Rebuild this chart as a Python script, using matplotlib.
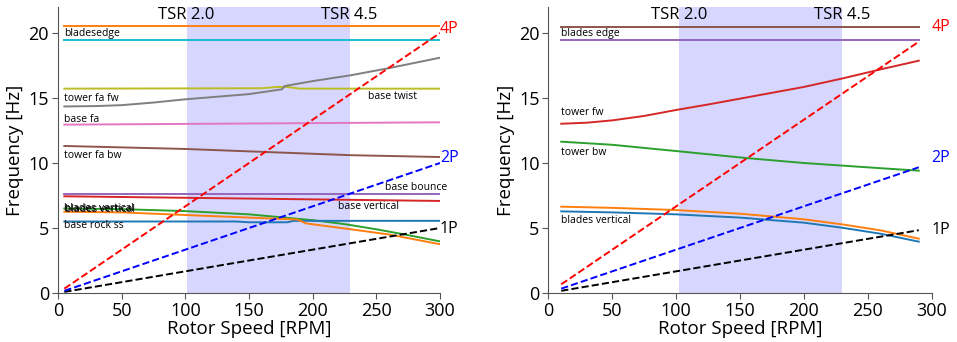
import numpy as np
import matplotlib.pyplot as plt

plt.rcParams['font.family'] = ['Open Sans', 'DejaVu Sans']

# ---- left panel data (rpm, Hz) ----
l_rpm_ends = [5, 300]
l_1p = [0.083, 5.0]
l_2p = [0.167, 10.0]
l_4p = [0.333, 20.0]

l_edge_top = [20.55, 20.55]
l_edge = [19.46, 19.46]
l_twist_rpm = [5, 160, 172, 180, 190, 300]
l_twist = [15.72, 15.75, 15.85, 15.85, 15.72, 15.72]
l_fafw_rpm = [5, 30, 50, 75, 100, 125, 150, 176, 178, 200, 230, 260, 300]
l_fafw = [14.35, 14.38, 14.45, 14.65, 14.9, 15.1, 15.3, 15.67, 15.92, 16.3, 16.75, 17.3, 18.1]
l_basefa = [12.95, 13.13]
l_fabw_rpm = [5, 100, 230, 300]
l_fabw = [11.31, 11.08, 10.6, 10.46]
l_bounce = [7.64, 7.64]
l_vert = [7.44, 7.08]
l_bv_g_rpm = [5, 50, 100, 150, 200, 225, 250, 275, 300]
l_bv_g = [6.5, 6.45, 6.3, 6.05, 5.6, 5.3, 4.9, 4.45, 3.97]
l_bv_o_rpm = [5, 50, 100, 150, 188, 195, 230, 260, 300]
l_bv_o = [6.25, 6.2, 6.0, 5.8, 5.65, 5.35, 4.9, 4.5, 3.75]
l_rock_rpm = [5, 140, 150, 180, 185, 300]
l_rock = [5.5, 5.5, 5.44, 5.44, 5.55, 5.55]

# ---- right panel data ----
r_rpm_ends = [10, 290]
r_1p = [0.167, 4.83]
r_2p = [0.333, 9.67]
r_4p = [0.667, 19.33]
r_edge_top = [20.5, 20.5]
r_edge = [19.46, 19.46]
r_fw_rpm = [10, 30, 50, 75, 100, 125, 150, 175, 200, 230, 260, 290]
r_fw = [13.02, 13.1, 13.28, 13.62, 14.08, 14.5, 14.95, 15.4, 15.85, 16.5, 17.2, 17.87]
r_bw_rpm = [10, 50, 102, 155, 200, 230, 260, 290]
r_bw = [11.64, 11.4, 10.9, 10.38, 10.0, 9.8, 9.6, 9.41]
r_rpm = [10, 50, 100, 150, 200, 230, 260, 290]
r_bv_o = [6.64, 6.55, 6.38, 6.1, 5.67, 5.28, 4.82, 4.18]
r_bv_b = [6.28, 6.2, 6.05, 5.8, 5.41, 5.02, 4.56, 3.95]

tsr_left = [101, 229]
tsr_right = [102, 230]

fig = plt.figure(figsize=(9.57, 3.42), dpi=100)
axl = fig.add_axes([0.0606, 0.1433, 0.3992, 0.8362])
axr = fig.add_axes([0.5731, 0.1433, 0.4003, 0.8362])

lw = 1.4
tfs = 7.5

# left
ax = axl
ax.axvspan(tsr_left[0], tsr_left[1], color='b', alpha=0.16, lw=0)
ax.plot(l_rpm_ends, l_edge_top, color='tab:orange', lw=lw)
ax.plot(l_rpm_ends, l_edge, color='tab:cyan', lw=lw)
ax.plot(l_twist_rpm, l_twist, color='tab:olive', lw=lw)
ax.plot(l_fafw_rpm, l_fafw, color='tab:gray', lw=lw)
ax.plot(l_rpm_ends, l_basefa, color='tab:pink', lw=lw)
ax.plot(l_fabw_rpm, l_fabw, color='tab:brown', lw=lw)
ax.plot(l_rpm_ends, l_bounce, color='tab:purple', lw=lw)
ax.plot(l_rpm_ends, l_vert, color='tab:red', lw=lw)
ax.plot(l_bv_g_rpm, l_bv_g, color='tab:green', lw=lw)
ax.plot(l_rock_rpm, l_rock, color='tab:blue', lw=lw)
ax.plot(l_bv_o_rpm, l_bv_o, color='tab:orange', lw=lw)
ax.plot(l_rpm_ends, l_1p, 'k--', lw=lw)
ax.plot(l_rpm_ends, l_2p, 'b--', lw=lw)
ax.plot(l_rpm_ends, l_4p, 'r--', lw=lw)
ax.text(5, 19.95, 'bladesedge', fontsize=tfs, va='center')
ax.text(5, 14.98, 'tower fa fw', fontsize=tfs, va='center')
ax.text(5, 13.38, 'base fa', fontsize=tfs, va='center')
ax.text(5, 10.56, 'tower fa bw', fontsize=tfs, va='center')
ax.text(243.5, 15.08, 'base twist', fontsize=tfs, va='center')
ax.text(257, 8.1, 'base bounce', fontsize=tfs, va='center')
ax.text(220, 6.69, 'base vertical', fontsize=tfs, va='center')
ax.text(5, 6.48, 'blades vertical', fontsize=tfs, va='center')
ax.text(5.6, 6.4, 'blades vertical', fontsize=tfs, va='center')
ax.text(5, 5.2, 'base rock ss', fontsize=tfs, va='center')
ax.text(300, 20.3, '4P', color='r', fontsize=11.5, va='center')
ax.text(300, 10.4, '2P', color='b', fontsize=11.5, va='center')
ax.text(300, 4.9, '1P', color='k', fontsize=11.5, va='center')
ax.text(tsr_left[0], 21.4, 'TSR 2.0', fontsize=12, ha='center', va='center')
ax.text(tsr_left[1], 21.4, 'TSR 4.5', fontsize=12, ha='center', va='center')

# right
ax = axr
ax.axvspan(tsr_right[0], tsr_right[1], color='b', alpha=0.16, lw=0)
ax.plot(r_rpm_ends, r_edge_top, color='tab:brown', lw=lw)
ax.plot(r_rpm_ends, r_edge, color='tab:purple', lw=lw)
ax.plot(r_fw_rpm, r_fw, color='tab:red', lw=lw)
ax.plot(r_bw_rpm, r_bw, color='tab:green', lw=lw)
ax.plot(r_rpm, r_bv_o, color='tab:orange', lw=lw)
ax.plot(r_rpm, r_bv_b, color='tab:blue', lw=lw)
ax.plot(r_rpm_ends, r_1p, 'k--', lw=lw)
ax.plot(r_rpm_ends, r_2p, 'b--', lw=lw)
ax.plot(r_rpm_ends, r_4p, 'r--', lw=lw)
ax.text(10, 19.97, 'blades edge', fontsize=tfs, va='center')
ax.text(10, 13.87, 'tower fw', fontsize=tfs, va='center')
ax.text(10, 10.77, 'tower bw', fontsize=tfs, va='center')
ax.text(10, 5.54, 'blades vertical', fontsize=tfs, va='center')
ax.text(300, 20.5, '4P', color='r', fontsize=11.5, va='center')
ax.text(300, 10.4, '2P', color='b', fontsize=11.5, va='center')
ax.text(300, 4.85, '1P', color='k', fontsize=11.5, va='center')
ax.text(tsr_right[0], 21.4, 'TSR 2.0', fontsize=12, ha='center', va='center')
ax.text(tsr_right[1], 21.4, 'TSR 4.5', fontsize=12, ha='center', va='center')

for ax in (axl, axr):
    ax.set_xlim(0, 300)
    ax.set_ylim(0, 22)
    ax.set_xticks([0, 50, 100, 150, 200, 250, 300])
    ax.set_yticks([0, 5, 10, 15, 20])
    ax.spines['top'].set_visible(False)
    ax.spines['right'].set_visible(False)
    ax.spines['left'].set_color('#555555')
    ax.spines['bottom'].set_color('#555555')
    ax.tick_params(labelsize=13, length=4.5, pad=2, color='#555555')
    ax.set_xlabel('Rotor Speed [RPM]', fontsize=13.5, labelpad=0)
    ax.set_ylabel('Frequency [Hz]', fontsize=13.5, labelpad=3)

fig.savefig('out.png', dpi=100)
